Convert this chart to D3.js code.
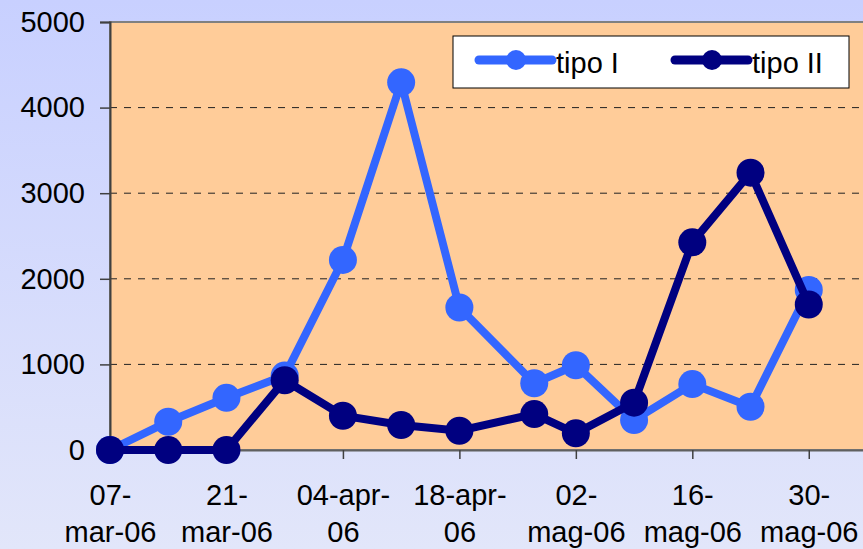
<!DOCTYPE html>
<html><head><meta charset="utf-8">
<script src="https://cdn.jsdelivr.net/npm/d3@7"></script>
<style>html,body{margin:0;padding:0;overflow:hidden;}svg{display:block;}</style>
</head><body>
<script>
const dates = ["2006-03-07","2006-03-14","2006-03-21","2006-03-28","2006-04-04","2006-04-11","2006-04-18","2006-04-27","2006-05-02","2006-05-09","2006-05-16","2006-05-23","2006-05-30"];
const tipoI  = [0, 330, 610, 870, 2220, 4295, 1665, 780, 990, 350, 770, 505, 1870];
const tipoII = [0, 0, 0, 815, 400, 292, 225, 420, 195, 553, 2426, 3240, 1700];
const seriesNames = ["tipo I", "tipo II"];
const seriesColors = ["#3366FF", "#000080"];
const xTickDates = ["2006-03-07","2006-03-21","2006-04-04","2006-04-18","2006-05-02","2006-05-16","2006-05-30"];
const xTickLabels = [["07-","mar-06"],["21-","mar-06"],["04-apr-","06"],["18-apr-","06"],["02-","mag-06"],["16-","mag-06"],["30-","mag-06"]];
const yTicks = [0, 1000, 2000, 3000, 4000, 5000];

(function(){
const W = 863, H = 549;
const parse = d3.utcParse("%Y-%m-%d");
const svg = d3.select("body").append("svg").attr("width", W).attr("height", H);
const defs = svg.append("defs");
const g = defs.append("linearGradient").attr("id","bg").attr("x1",0).attr("y1",0).attr("x2",0).attr("y2",1);
g.append("stop").attr("offset","0%").attr("stop-color","#C8D0FF");
g.append("stop").attr("offset","100%").attr("stop-color","#E2E6FA");
svg.append("rect").attr("width",W).attr("height",H).attr("fill","url(#bg)");

const pL = 110, pR = 867, pT = 22, pB = 450;
const x = d3.scaleUtc().domain([parse("2006-03-07"), parse("2006-06-06")]).range([pL, pR]);
const y = d3.scaleLinear().domain([0, 5000]).range([pB, pT]);

svg.append("rect").attr("x",pL).attr("y",pT).attr("width",pR-pL).attr("height",pB-pT)
  .attr("fill","#FFCC99").attr("stroke","#808080").attr("stroke-width",2);

// gridlines
svg.append("g").selectAll("line").data(yTicks.filter(v => v > 0 && v < 5000)).join("line")
  .attr("x1",pL).attr("x2",pR).attr("y1",d=>y(d)).attr("y2",d=>y(d))
  .attr("stroke","#222").attr("stroke-width",1).attr("stroke-dasharray","7,7");

// y axis
const yAx = svg.append("g").attr("transform",`translate(${pL},0)`)
  .call(d3.axisLeft(y).tickValues(yTicks).tickSize(10).tickPadding(15).tickFormat(d3.format("d")));
yAx.select(".domain").attr("stroke","#404040").attr("stroke-width",2);
yAx.selectAll(".tick line").attr("stroke","#404040").attr("stroke-width",1.5);
yAx.selectAll("text").attr("font-family","Liberation Sans, Arial, sans-serif").attr("font-size",29).attr("fill","#000");

// x axis
const xAx = svg.append("g").attr("transform",`translate(0,${pB})`)
  .call(d3.axisBottom(x).tickValues(xTickDates.map(parse)).tickSize(9).tickFormat(""));
xAx.select(".domain").attr("stroke","#606060").attr("stroke-width",2);
xAx.selectAll(".tick line").attr("stroke","#404040").attr("stroke-width",1.5);
xAx.selectAll(".tick").each(function(d, i) {
  const t = d3.select(this).append("text").attr("fill","#000")
    .attr("font-family","Liberation Sans, Arial, sans-serif").attr("font-size",29).attr("text-anchor","middle");
  t.append("tspan").attr("x",0).attr("y",55).text(xTickLabels[i][0]);
  t.append("tspan").attr("x",0).attr("y",92).text(xTickLabels[i][1]);
});

// series
const pts = [tipoI, tipoII].map(vals => vals.map((v,i)=>({d:parse(dates[i]), v})));
const line = d3.line().x(p=>x(p.d)).y(p=>y(p.v));
pts.forEach((p, k) => {
  const gg = svg.append("g");
  gg.append("path").datum(p).attr("d",line).attr("fill","none")
    .attr("stroke",seriesColors[k]).attr("stroke-width",8).attr("stroke-linejoin","miter");
  gg.selectAll("circle").data(p).join("circle").attr("cx",q=>x(q.d)).attr("cy",q=>y(q.v)).attr("r",14)
    .attr("fill",seriesColors[k]);
});

// legend
const lg = svg.append("g");
lg.append("rect").attr("x",453).attr("y",36).attr("width",396).attr("height",52).attr("fill","#fff").attr("stroke","#000").attr("stroke-width",1);
const legX = [479, 675];
seriesNames.forEach((n,k)=>{
  lg.append("line").attr("x1",legX[k]).attr("x2",legX[k]+73).attr("y1",60).attr("y2",60)
    .attr("stroke",seriesColors[k]).attr("stroke-width",9).attr("stroke-linecap","round");
  lg.append("circle").attr("cx",legX[k]+37).attr("cy",60).attr("r",10).attr("fill",seriesColors[k]);
  lg.append("text").attr("x",legX[k]+77).attr("y",73).attr("font-family","Liberation Sans, Arial, sans-serif")
    .attr("font-size",29).attr("fill","#000").text(n);
});
})();
</script>
</body></html>
